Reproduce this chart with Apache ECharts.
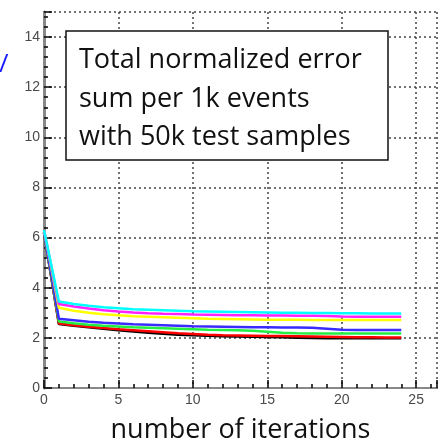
<!DOCTYPE html>
<html>
<head>
<meta charset="utf-8">
<script src="https://cdn.jsdelivr.net/npm/echarts@6/dist/echarts.min.js"></script>
<style>
  html, body { margin: 0; padding: 0; background: #fff; }
  #chart { width: 446px; height: 443px; }
</style>
</head>
<body>
<div id="chart"></div>
<script>
// Iteration index (x values)
const iterations = [0,1,2,3,4,5,6,7,8,9,10,11,12,13,14,15,16,17,18,19,20,21,22,23,24];

// Error sums per 1k events, one array per configuration
const cyanVals    = [6.30,3.45,3.35,3.28,3.22,3.18,3.14,3.12,3.10,3.08,3.06,3.05,3.04,3.03,3.02,3.01,3.00,3.00,2.99,2.99,2.98,2.98,2.97,2.97,2.97];
const magentaVals = [6.30,3.35,3.25,3.17,3.10,3.05,3.01,2.98,2.96,2.95,2.93,2.92,2.91,2.90,2.90,2.89,2.89,2.88,2.88,2.87,2.85,2.84,2.84,2.84,2.84];
const yellowVals  = [6.30,3.20,3.08,3.00,2.94,2.90,2.86,2.84,2.82,2.80,2.78,2.76,2.75,2.74,2.73,2.72,2.72,2.72,2.71,2.71,2.71,2.71,2.71,2.71,2.71];
const blueVals    = [6.20,2.76,2.70,2.64,2.60,2.57,2.54,2.52,2.50,2.48,2.46,2.45,2.44,2.43,2.42,2.42,2.41,2.41,2.40,2.36,2.32,2.31,2.31,2.31,2.31];
const greenVals   = [6.20,2.65,2.58,2.52,2.48,2.45,2.42,2.40,2.38,2.36,2.34,2.32,2.31,2.30,2.28,2.24,2.20,2.18,2.17,2.17,2.17,2.17,2.17,2.17,2.17];
const redVals     = [6.20,2.57,2.50,2.44,2.39,2.34,2.30,2.26,2.22,2.18,2.15,2.12,2.10,2.09,2.08,2.07,2.07,2.06,2.05,2.04,2.03,2.02,2.02,2.01,2.01];
const blackVals   = [6.20,2.55,2.48,2.42,2.36,2.30,2.25,2.20,2.16,2.12,2.10,2.08,2.06,2.05,2.04,2.03,2.02,2.00,1.99,1.98,1.98,1.98,1.98,1.98,1.98];

const xTickLabels = ['0','5','10','15','20','25'];
const yTickLabels = ['0','2','4','6','8','10','12','14'];

const seriesDefs = [
  { name: 'black',   color: '#000000', values: blackVals },
  { name: 'red',     color: '#ff0000', values: redVals },
  { name: 'green',   color: '#22ee44', values: greenVals },
  { name: 'blue',    color: '#3a2cff', values: blueVals },
  { name: 'yellow',  color: '#ffff00', values: yellowVals },
  { name: 'magenta', color: '#ff22ff', values: magentaVals },
  { name: 'cyan',    color: '#00ffff', values: cyanVals }
];

const tickFont = { color: '#4a4a4a', fontFamily: 'Liberation Sans', fontSize: 14 };
const gridDots = { color: '#444', width: 1.5, type: [2, 3] };
const boxFont = { fontFamily: 'Open Sans', fontSize: 27, fill: '#111' };

const chart = echarts.init(document.getElementById('chart'), null, { renderer: 'canvas' });

chart.setOption({
  animation: false,
  backgroundColor: '#fff',
  grid: { left: 44, right: 9, top: 12, bottom: 55, containLabel: false, outerBoundsMode: 'none' },
  xAxis: [
    {
      type: 'value', min: 0, max: 26.4, interval: 5,
      name: 'number of iterations', nameLocation: 'middle', nameGap: 29,
      nameTextStyle: { fontFamily: 'Open Sans', fontSize: 27, color: '#111' },
      axisLine: { show: true, onZero: false, lineStyle: { color: '#000', width: 2 } },
      axisTick: { show: true, inside: true, length: 8, lineStyle: { color: '#000', width: 1.5 } },
      minorTick: { show: true, splitNumber: 5, length: 4, lineStyle: { color: '#000', width: 1.5 } },
      axisLabel: {
        ...tickFont, margin: 5,
        formatter: v => xTickLabels.includes(String(v)) ? String(v) : ''
      },
      splitLine: { show: true, lineStyle: gridDots }
    },
    {
      type: 'value', position: 'top', min: 0, max: 26.4,
      axisLine: { show: true, lineStyle: { color: '#888', width: 2 } },
      axisTick: { show: false }, axisLabel: { show: false }, splitLine: { show: false }
    }
  ],
  yAxis: [
    {
      type: 'value', min: 0, max: 15, interval: 2,
      axisLine: { show: true, onZero: false, lineStyle: { color: '#000', width: 2 } },
      axisTick: { show: true, inside: true, length: 8, lineStyle: { color: '#000', width: 1.5 } },
      minorTick: { show: true, splitNumber: 5, length: 4, lineStyle: { color: '#000', width: 1.5 } },
      axisLabel: {
        ...tickFont, margin: 4,
        formatter: v => yTickLabels.includes(String(v)) ? String(v) : ''
      },
      splitLine: { show: true, lineStyle: gridDots }
    },
    {
      type: 'value', position: 'right', min: 0, max: 15,
      axisLine: { show: true, lineStyle: { color: '#888', width: 3 } },
      axisTick: { show: false }, axisLabel: { show: false }, splitLine: { show: false }
    }
  ],
  series: seriesDefs.map(s => ({
    name: s.name,
    type: 'line',
    xAxisIndex: 0, yAxisIndex: 0,
    data: iterations.map((x, i) => [x, s.values[i]]),
    showSymbol: false,
    lineStyle: { color: s.color, width: 2.5 },
    itemStyle: { color: s.color }
  })),
  graphic: [
    {
      type: 'rect', z: 100,
      shape: { x: 66, y: 31, width: 322, height: 129 },
      style: { fill: '#fff', stroke: '#111', lineWidth: 1.5 }
    },
    { type: 'text', z: 101, x: 79, y: 74,  style: { ...boxFont, text: 'Total normalized error', textVerticalAlign: 'bottom' } },
    { type: 'text', z: 101, x: 79, y: 113, style: { ...boxFont, text: 'sum per 1k events', textVerticalAlign: 'bottom' } },
    { type: 'text', z: 101, x: 79, y: 151, style: { ...boxFont, text: 'with 50k test samples', textVerticalAlign: 'bottom' } },
    { type: 'text', z: 101, x: -1, y: 52, style: { text: '/', fontFamily: 'Open Sans', fontSize: 26, fill: '#1a1aff' } }
  ]
});
</script>
</body>
</html>
